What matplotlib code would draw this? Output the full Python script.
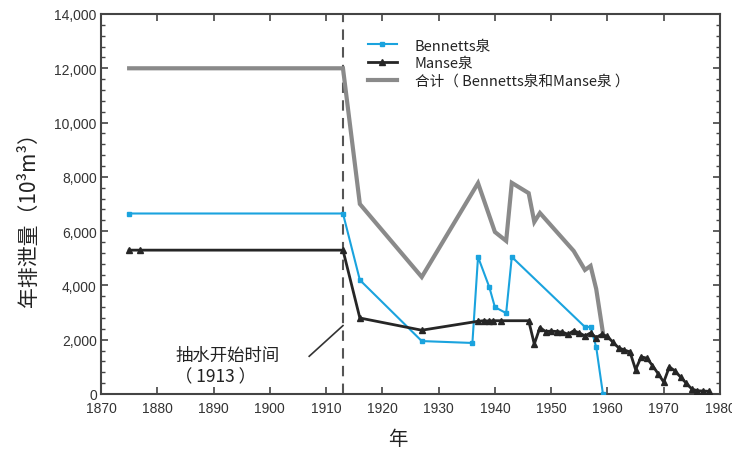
import matplotlib
matplotlib.use("Agg")
import matplotlib.pyplot as plt
from matplotlib.ticker import MultipleLocator, FuncFormatter
from matplotlib.lines import Line2D

plt.rcParams['font.family'] = ['Noto Sans CJK SC', 'DejaVu Sans']

# ---- data ----
total_years = [1875, 1913, 1916, 1927, 1937, 1940, 1942, 1943, 1946, 1947, 1948,
               1954, 1956, 1957, 1958, 1959.2]
total_vals = [12000, 12000, 7000, 4310, 7770, 5970, 5640, 7780, 7400, 6340, 6670,
              5270, 4570, 4720, 3870, 2250]

bennetts_years = [1875, 1913, 1916, 1927, 1936, 1937, 1939, 1940, 1942, 1943,
                  1956, 1957, 1958, 1959.2]
bennetts_vals = [6650, 6650, 4200, 1950, 1880, 5050, 3940, 3200, 2980, 5050,
                 2470, 2470, 1730, 0]

manse_years = [1875, 1877, 1913, 1916, 1927, 1937, 1938, 1939, 1939.7, 1941, 1946,
               1947, 1948, 1949, 1950, 1951, 1952, 1953, 1954, 1955, 1956, 1957,
               1958, 1959, 1960, 1961, 1962, 1963, 1964, 1965, 1966, 1967, 1968,
               1969, 1970, 1971, 1972, 1973, 1974, 1975, 1976, 1977, 1978]
manse_vals = [5300, 5300, 5300, 2800, 2350, 2680, 2700, 2690, 2700, 2700, 2700,
              1840, 2450, 2300, 2320, 2300, 2280, 2200, 2330, 2250, 2140, 2250,
              2080, 2200, 2120, 1900, 1700, 1620, 1550, 900, 1370, 1320, 1050,
              750, 440, 1000, 850, 620, 400, 180, 120, 110, 100]

legend_labels = ['Bennetts泉', 'Manse泉', '合计（ Bennetts泉和Manse泉 ）']
pump_year = 1913
annot_text = '抽水开始时间\n（ 1913 ）'

# ---- figure ----
fig = plt.figure(figsize=(7.32, 4.52), dpi=100)
ax = fig.add_axes([101/732, 1-395/452, (720-101)/732, (395-15)/452])

c_gray = '#8a8a8a'
c_blue = '#1aa3de'
c_black = '#262626'

ax.plot(total_years, total_vals, color=c_gray, lw=3.0, solid_joinstyle='miter', zorder=2)
ax.plot(bennetts_years, bennetts_vals, color=c_blue, lw=1.5, marker='s', ms=3.5,
        mec=c_blue, mfc=c_blue, zorder=3)
ax.plot(manse_years, manse_vals, color=c_black, lw=2.0, marker='^', ms=4.5,
        mec=c_black, mfc=c_black, zorder=4)

ax.axvline(pump_year, color='#555555', lw=1.5, ls=(0, (5, 3.5)), zorder=1)

ax.set_xlim(1870, 1980)
ax.set_ylim(0, 14000)
ax.xaxis.set_major_locator(MultipleLocator(10))
ax.yaxis.set_major_locator(MultipleLocator(2000))
ax.yaxis.set_minor_locator(MultipleLocator(400))
ax.yaxis.set_major_formatter(FuncFormatter(lambda v, p: f'{int(v):,}'))

tick_font = ['Liberation Sans', 'DejaVu Sans']
for lab in ax.get_xticklabels() + ax.get_yticklabels():
    lab.set_family(tick_font)
    lab.set_fontsize(10)
ax.tick_params(axis='both', which='major', direction='in', length=5, width=1.2,
               colors='#444444', labelcolor='#333333', top=True, right=True)
ax.tick_params(axis='y', which='minor', direction='in', length=3, width=1.0,
               colors='#444444', right=True, left=True)
ax.tick_params(axis='x', which='major', pad=5)
ax.tick_params(axis='y', which='major', pad=3)
for s in ax.spines.values():
    s.set_color('#444444')
    s.set_linewidth(1.5)

ax.set_xlabel('年', fontsize=14, color='#222222')
ax.xaxis.set_label_coords(0.48, -0.09)
ax.set_ylabel('年排泄量（10³m³）', fontsize=15, color='#222222')
ax.yaxis.set_label_coords(-0.098, 0.474)

ax.text(1883.2, 1030, annot_text, fontsize=12.5, color='#222222', va='center',
        ha='left', linespacing=1.25)
ax.plot([1907.0, 1913.0], [1390, 2520], color='#333333', lw=1.2)

handles = [
    Line2D([], [], color=c_blue, lw=1.5, marker='s', ms=3.5),
    Line2D([], [], color=c_black, lw=2.0, marker='^', ms=4.5),
    Line2D([], [], color=c_gray, lw=3.0),
]
leg = ax.legend(handles, legend_labels, loc='upper left', bbox_to_anchor=(0.41, 0.97),
                frameon=False, fontsize=10.5, handlelength=2.0, handletextpad=1.2,
                labelspacing=0.25)
for t in leg.get_texts():
    t.set_color('#222222')

fig.savefig('out.png', dpi=100, facecolor='white')
